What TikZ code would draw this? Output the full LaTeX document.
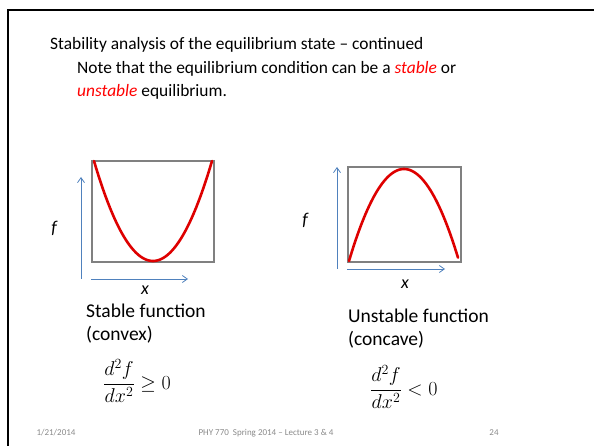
\documentclass[tikz,border=0pt]{standalone}
\usepackage{fix-cm}
\usepackage{fontspec}
\setmainfont{Carlito}
\usepackage{tikz}
\usetikzlibrary{positioning, arrows.meta, calc}

\definecolor{axisblue}{RGB}{79,129,189}
\definecolor{boxgray}{RGB}{128,128,128}
\definecolor{curvered}{RGB}{222,0,0}
\definecolor{footgray}{RGB}{137,137,137}

\begin{document}
\begin{tikzpicture}[
    x=1pt, y=-1pt,          % ピクセル単位で配置
    >={Straight Barb[length=5pt,width=7pt]},
    body/.style={anchor=base west, inner sep=0pt, font=\fontsize{17.4}{21}\selectfont},
    caption/.style={anchor=base west, inner sep=0pt, font=\fontsize{19.5}{23}\selectfont},
    axislabel/.style={inner sep=0pt, font=\fontsize{18}{22}\selectfont\itshape},
    formula/.style={inner sep=0pt, font=\fontsize{20}{24}\selectfont},
    footer/.style={inner sep=0pt, text=footgray, font=\fontsize{9}{11}\selectfont},
    axis_arrow/.style={->, axisblue, line width=0.8pt},
    plot_box/.style={draw=boxgray, line width=1.2pt},
    red_curve/.style={curvered, line width=2.6pt, line cap=round}
]
    \useasboundingbox (0,0) rectangle (594,446);

    % --- 1. 枠線 ---
    \draw [line width=2.4pt] (8,446) -- (8,10) -- (594,10);

    % --- 2. 本文テキスト ---
    \node [body] (title) at (50,50) {Stability analysis of the equilibrium state -- continued};
    \node [body] (note1) at (77,74) {Note that the equilibrium condition can be a \textcolor{red}{\itshape stable} or};
    \node [body] (note2) at (77,97) {\textcolor{red}{\itshape unstable} equilibrium.};

    % --- 3. 左のグラフ（凸関数） ---
    \draw [plot_box] (92,161) rectangle (214,262);
    \draw [red_curve, domain=94:212, samples=60]
        plot (\x, {261-100*((\x-153)/59)^2});
    \coordinate (oL) at (81,279);
    \coordinate (topL) at (81,177);
    \coordinate (xstartL) at (91,279);
    \coordinate (rightL) at (188,279);
    \draw [axis_arrow] (oL) -- (topL);
    \draw [axis_arrow] (xstartL) -- (rightL);
    \node [axislabel] (fL) at (54,228) {f};
    \node [axislabel] (xL) at (145,290) {x};

    % --- 4. 右のグラフ（凹関数） ---
    \draw [plot_box] (348,167) rectangle (461,262);
    \draw [red_curve, domain=349:458, samples=60]
        plot (\x, {169+92*((\x-404)/55)^2});
    \coordinate (oR) at (337,269);
    \coordinate (topR) at (337,167);
    \coordinate (xstartR) at (347,269);
    \coordinate (rightR) at (445,269);
    \draw [axis_arrow] (oR) -- (topR);
    \draw [axis_arrow] (xstartR) -- (rightR);
    \node [axislabel] (fR) at (305,220) {f};
    \node [axislabel] (xR) at (405,284) {x};

    % --- 5. 説明と条件式 ---
    \node [caption] (stableLbl) at (86,317) {Stable function};
    \node [caption] (convexLbl) at (86,340) {(convex)};
    \node [formula, anchor=west] (condL) at (103,381) {$\displaystyle\frac{d^2 f}{dx^2}\ge 0$};

    \node [caption] (unstableLbl) at (348,322) {Unstable function};
    \node [caption] (concaveLbl) at (348,345) {(concave)};
    \node [formula, anchor=west] (condR) at (370,387) {$\displaystyle\frac{d^2 f}{dx^2}< 0$};

    % --- 6. フッター ---
    \node [footer] (date) at (56,433) {1/21/2014};
    \node [footer] (course) at (266,433) {PHY 770\ \ Spring 2014 -- Lecture 3 \& 4};
    \node [footer] (page) at (494,433) {24};

\end{tikzpicture}
\end{document}
